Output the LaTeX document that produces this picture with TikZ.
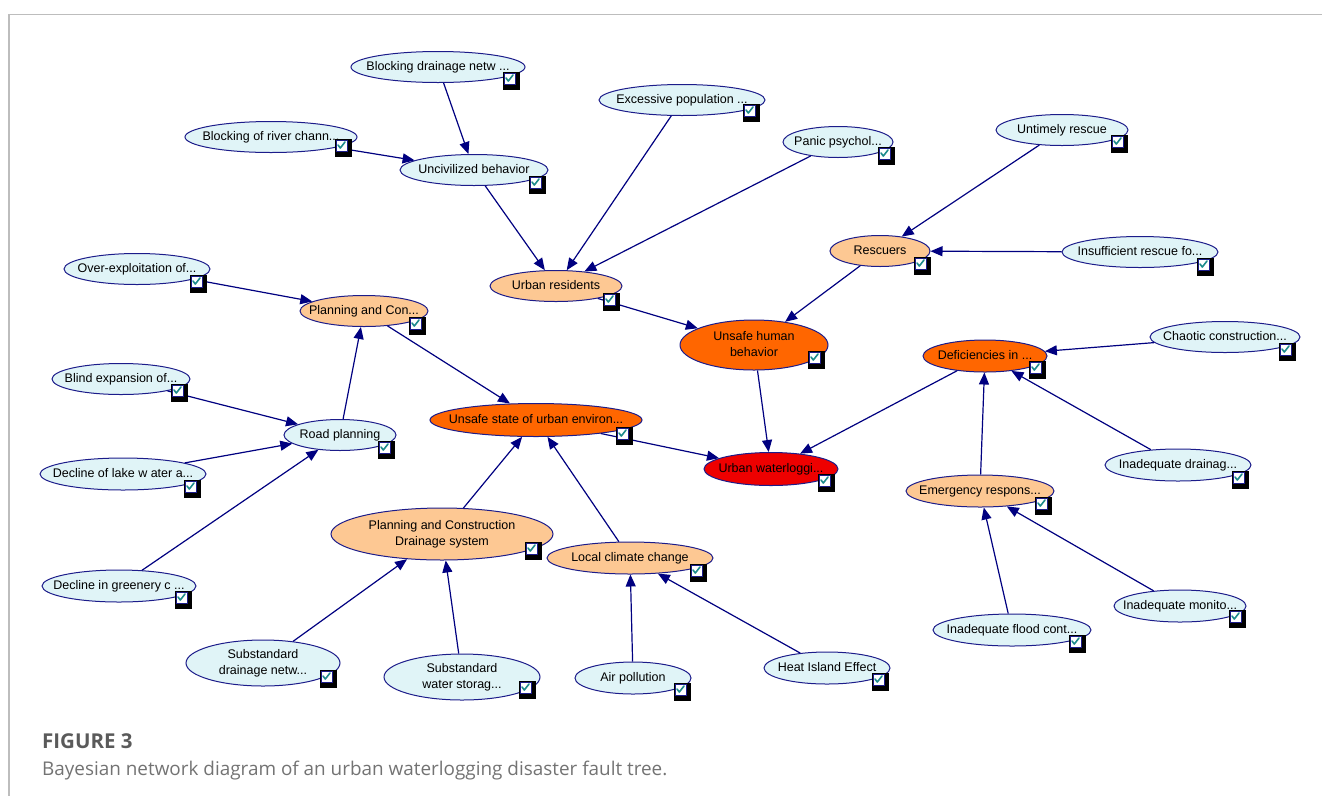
\documentclass[tikz,border=0pt]{standalone}
\usepackage{fontspec}
\setmainfont{Liberation Sans}
\newfontfamily\capfont{Open Sans}
\usetikzlibrary{shapes.geometric,arrows.meta}
\definecolor{navyline}{HTML}{000080}
\definecolor{nodeborder}{HTML}{1C1C8A}
\definecolor{leaf}{HTML}{E0F4F7}
\definecolor{mid}{HTML}{FDC893}
\definecolor{hot}{HTML}{FF6600}
\definecolor{top}{HTML}{EE0000}
\definecolor{tick}{HTML}{1E8C8C}
\definecolor{capgray}{HTML}{5A5A5A}
\definecolor{framegray}{HTML}{BDBDBD}
% node text in a zero-width box, so the ellipse size is set by its minimum width/height only
\newcommand{\ntxt}[1]{\makebox[0pt][c]{\begin{tabular}{@{}c@{}}#1\end{tabular}}}
\tikzset{
  bn/.style={ellipse, draw=nodeborder, line width=1pt, inner sep=0pt,
    font=\fontsize{12.5}{16}\selectfont, text=black},
  leafnode/.style={bn, fill=leaf},
  midnode/.style={bn, fill=mid},
  hotnode/.style={bn, fill=hot},
  topnode/.style={bn, fill=top},
  link/.style={draw=navyline, line width=1.2pt,
    -{Triangle[length=12pt,width=10pt]}},
  cb/.pic={
    \fill[black] (-8,-9) rectangle (9,9);
    \filldraw[fill=white, draw=nodeborder, line width=0.8pt] (-7,-8) rectangle (4,3);
    \draw[tick, line width=1.6pt, line cap=round, line join=round]
      (-5,-3) -- (-2.7,0) -- (2,-6);
  }
}
\begin{document}
\begin{tikzpicture}[x=1pt, y=-1pt]
\useasboundingbox (0,0) rectangle (1322,796);
% page frame
\draw[framegray, line width=1.5pt] (1322,14.5) -- (9,14.5) -- (9,796);

% ---- nodes ----
\node[leafnode, minimum width=174pt, minimum height=31pt] (bdn) at (438,67) {\ntxt{Blocking drainage netw ...}};
\node[leafnode, minimum width=166pt, minimum height=31pt] (exc) at (682,100) {\ntxt{Excessive population ...}};
\node[leafnode, minimum width=172pt, minimum height=31pt] (brc) at (271,137) {\ntxt{Blocking of river chann...}};
\node[leafnode, minimum width=148pt, minimum height=31pt] (unc) at (474,170) {\ntxt{Uncivilized behavior}};
\node[leafnode, minimum width=110pt, minimum height=31pt] (pan) at (838,142) {\ntxt{Panic psychol...}};
\node[leafnode, minimum width=132pt, minimum height=31pt] (unt) at (1062,130) {\ntxt{Untimely rescue}};
\node[midnode, minimum width=100pt, minimum height=31pt] (res) at (880,251) {\ntxt{Rescuers}};
\node[leafnode, minimum width=156pt, minimum height=31pt] (ins) at (1140,252) {\ntxt{Insufficient rescue fo...}};
\node[leafnode, minimum width=146pt, minimum height=31pt] (ove) at (137,269) {\ntxt{Over-exploitation of...}};
\node[midnode, minimum width=132pt, minimum height=31pt] (urb) at (556,286) {\ntxt{Urban residents}};
\node[midnode, minimum width=128pt, minimum height=31pt] (pac) at (364,311) {\ntxt{Planning and Con...}};
\node[hotnode, minimum width=148pt, minimum height=50pt] (uhb) at (754,345) {\ntxt{Unsafe human\\behavior}};
\node[hotnode, minimum width=124pt, minimum height=32pt] (def) at (985,356) {\ntxt{Deficiencies in ...}};
\node[leafnode, minimum width=150pt, minimum height=31pt] (cha) at (1225,337) {\ntxt{Chaotic construction...}};
\node[leafnode, minimum width=138pt, minimum height=31pt] (bli) at (121,379) {\ntxt{Blind expansion of...}};
\node[hotnode, minimum width=212pt, minimum height=33pt] (use) at (536,420) {\ntxt{Unsafe state of urban environ...}};
\node[leafnode, minimum width=112pt, minimum height=31pt] (road) at (340,435) {\ntxt{Road planning}};
\node[topnode, minimum width=134pt, minimum height=33pt] (uw) at (771,469) {\ntxt{Urban waterloggi...}};
\node[leafnode, minimum width=146pt, minimum height=32pt] (ind) at (1178,465) {\ntxt{Inadequate drainag...}};
\node[leafnode, minimum width=166pt, minimum height=32pt] (lake) at (123,474) {\ntxt{Decline of lake w ater a...}};
\node[midnode, minimum width=148pt, minimum height=32pt] (emr) at (980,491) {\ntxt{Emergency respons...}};
\node[midnode, minimum width=222pt, minimum height=52pt] (pds) at (442,534) {\ntxt{Planning and Construction\\Drainage system}};
\node[midnode, minimum width=166pt, minimum height=32pt] (lcc) at (630,558) {\ntxt{Local climate change}};
\node[leafnode, minimum width=154pt, minimum height=32pt] (gre) at (119,586) {\ntxt{Decline in greenery c ...}};
\node[leafnode, minimum width=132pt, minimum height=32pt] (mon) at (1180,606) {\ntxt{Inadequate monito...}};
\node[leafnode, minimum width=158pt, minimum height=32pt] (flo) at (1012,630) {\ntxt{Inadequate flood cont...}};
\node[leafnode, minimum width=154pt, minimum height=46pt] (sdn) at (263,663) {\ntxt{Substandard\\drainage netw...}};
\node[leafnode, minimum width=156pt, minimum height=46pt] (sws) at (462,677) {\ntxt{Substandard\\water storag...}};
\node[leafnode, minimum width=116pt, minimum height=32pt] (air) at (633,678) {\ntxt{Air pollution}};
\node[leafnode, minimum width=126pt, minimum height=32pt] (hie) at (827,668) {\ntxt{Heat Island Effect}};

% ---- causal links ----
\draw[link] (bdn) -- (unc);
\draw[link] (brc) -- (unc);
\draw[link] (unc) -- (urb);
\draw[link] (exc) -- (urb);
\draw[link] (pan) -- (urb);
\draw[link] (unt) -- (res);
\draw[link] (ins) -- (res);
\draw[link] (res) -- (uhb);
\draw[link] (urb) -- (uhb);
\draw[link] (uhb) -- (uw);
\draw[link] (ove) -- (pac);
\draw[link] (pac) -- (use);
\draw[link] (road) -- (pac);
\draw[link] (bli) -- (road);
\draw[link] (lake) -- (road);
\draw[link] (gre) -- (road);
\draw[link] (use) -- (uw);
\draw[link] (pds) -- (use);
\draw[link] (lcc) -- (use);
\draw[link] (sdn) -- (pds);
\draw[link] (sws) -- (pds);
\draw[link] (air) -- (lcc);
\draw[link] (hie) -- (lcc);
\draw[link] (def) -- (uw);
\draw[link] (cha) -- (def);
\draw[link] (ind) -- (def);
\draw[link] (emr) -- (def);
\draw[link] (flo) -- (emr);
\draw[link] (mon) -- (emr);

% ---- state check boxes ----
\foreach \p in {(511,81),(751,113),(343,148),(537,185),(886,156),(1119,144),
  (922,266),(1205,267),(198,284),(611,302),(417,326),(816,360),(1037,370),
  (1287,352),(179,393),(624,436),(386,450),(826,483),(1240,480),(192,489),
  (1043,506),(533,551),(698,573),(183,600),(1237,619),(1077,644),(328,679),
  (527,690),(682,692),(880,682)}
  \pic at \p {cb};

% ---- caption ----
\node[anchor=base west, inner sep=0pt, font=\capfont\bfseries\fontsize{20.5}{22}\selectfont, text=capgray] (fig) at (42,748) {FIGURE 3};
\node[anchor=base west, inner sep=0pt, font=\capfont\fontsize{18.9}{22}\selectfont, text=capgray!85] (cap) at (42,775) {Bayesian network diagram of an urban waterlogging disaster fault tree.};
\end{tikzpicture}
\end{document}
